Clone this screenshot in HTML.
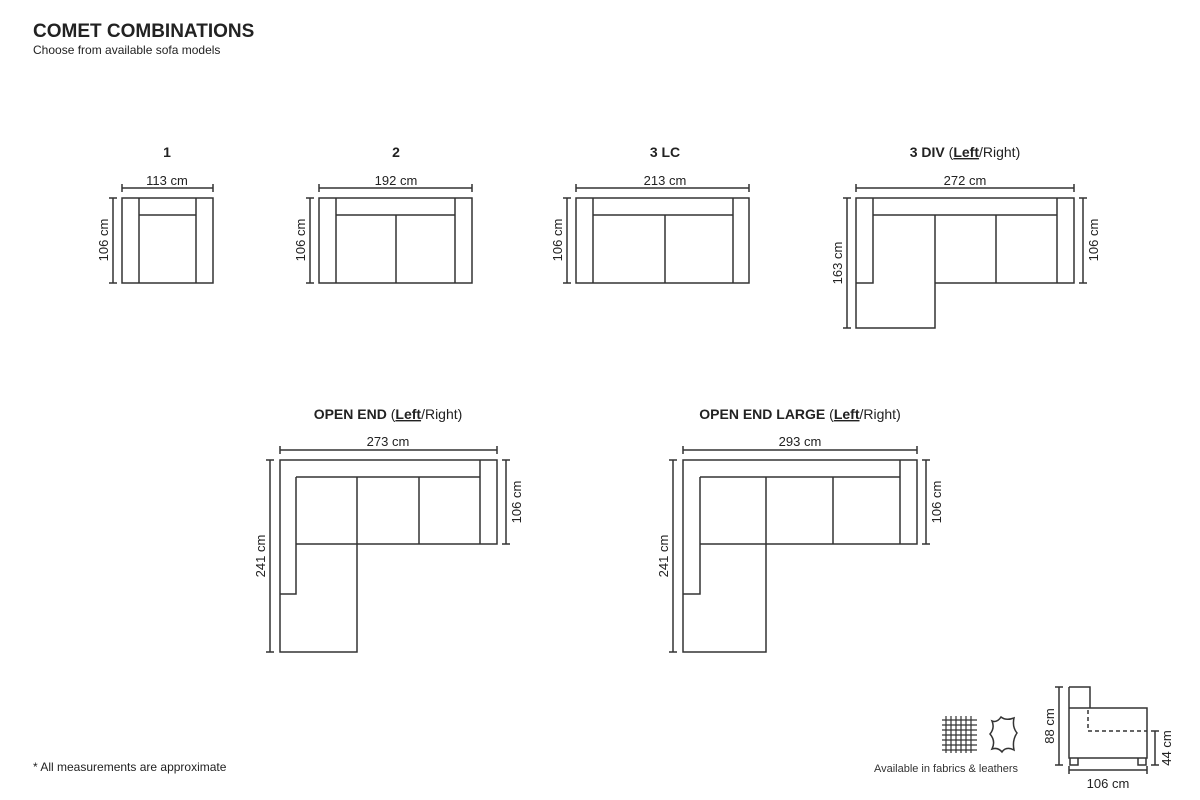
<!DOCTYPE html>
<html><head><meta charset="utf-8"><style>
html,body{margin:0;padding:0;background:#fff;width:1200px;height:800px;overflow:hidden}
svg{display:block;font-family:"Liberation Sans",sans-serif}
</style></head><body>
<svg width="1200" height="800" viewBox="0 0 1200 800" xmlns="http://www.w3.org/2000/svg">
<g fill="#222">
<text x="33" y="37" font-size="19" font-weight="bold">COMET COMBINATIONS</text>
<text x="33" y="54" font-size="12">Choose from available sofa models</text>
<text x="33" y="771" font-size="12">* All measurements are approximate</text>
</g>
<g fill="#222" font-size="14" text-anchor="middle">
<text x="167" y="157" font-weight="bold">1</text>
<text x="396" y="157" font-weight="bold">2</text>
<text x="665" y="157" font-weight="bold">3 LC</text>
<text x="965" y="157"><tspan font-weight="bold">3 DIV </tspan>(<tspan font-weight="bold" text-decoration="underline">Left</tspan>/Right)</text>
<text x="388" y="419"><tspan font-weight="bold">OPEN END </tspan>(<tspan font-weight="bold" text-decoration="underline">Left</tspan>/Right)</text>
<text x="800" y="419"><tspan font-weight="bold">OPEN END LARGE </tspan>(<tspan font-weight="bold" text-decoration="underline">Left</tspan>/Right)</text>
</g>
<g fill="#222" font-size="13" text-anchor="middle">
<text x="167" y="185">113 cm</text>
<text x="396" y="185">192 cm</text>
<text x="665" y="185">213 cm</text>
<text x="965" y="185">272 cm</text>
<text x="388" y="446">273 cm</text>
<text x="800" y="446">293 cm</text>
<text transform="translate(108,240) rotate(-90)">106 cm</text>
<text transform="translate(305,240) rotate(-90)">106 cm</text>
<text transform="translate(562,240) rotate(-90)">106 cm</text>
<text transform="translate(842,263) rotate(-90)">163 cm</text>
<text transform="translate(1098,240) rotate(-90)">106 cm</text>
<text transform="translate(265,556) rotate(-90)">241 cm</text>
<text transform="translate(521,502) rotate(-90)">106 cm</text>
<text transform="translate(668,556) rotate(-90)">241 cm</text>
<text transform="translate(941,502) rotate(-90)">106 cm</text>
<text transform="translate(1054,726) rotate(-90)">88 cm</text>
<text transform="translate(1171,748) rotate(-90)">44 cm</text>
<text x="1108" y="788">106 cm</text>
</g>
<text x="946" y="772" font-size="11" fill="#333" text-anchor="middle">Available in fabrics &amp; leathers</text>
<g stroke="#333" stroke-width="1.5" fill="none">
<!-- dims -->
<path d="M122 188H213M122 184v8M213 184v8 M113 198V283M109 198h8M109 283h8"/>
<path d="M319 188H472M319 184v8M472 184v8 M310 198V283M306 198h8M306 283h8"/>
<path d="M576 188H749M576 184v8M749 184v8 M567 198V283M563 198h8M563 283h8"/>
<path d="M856 188H1074M856 184v8M1074 184v8 M847 198V328M843 198h8M843 328h8 M1083 198V283M1079 198h8M1079 283h8"/>
<path d="M280 450H497M280 446v8M497 446v8 M270 460V652M266 460h8M266 652h8 M506 460V544M502 460h8M502 544h8"/>
<path d="M683 450H917M683 446v8M917 446v8 M673 460V652M669 460h8M669 652h8 M926 460V544M922 460h8M922 544h8"/>
<!-- sofa 1 -->
<rect x="122" y="198" width="91" height="85"/><path d="M139 198V283M196 198V283M139 215H196"/>
<!-- sofa 2 -->
<rect x="319" y="198" width="153" height="85"/><path d="M336 198V283M455 198V283M336 215H455M396 215V283"/>
<!-- 3LC -->
<rect x="576" y="198" width="173" height="85"/><path d="M593 198V283M733 198V283M593 215H733M665 215V283"/>
<!-- 3DIV -->
<path d="M856 198H1074V283H935V328H856Z M873 198V283H856 M1057 198V283 M873 215H1057 M935 215V283 M996 215V283"/>
<!-- open end -->
<path d="M280 460H497V544H357V652H280Z M480 460V544 M296 477H480 M296 477V594H280 M296 544H357 M357 477V544 M419 477V544"/>
<!-- open end large -->
<path d="M683 460H917V544H766V652H683Z M900 460V544 M700 477H900 M700 477V594H683 M700 544H766 M766 477V544 M833 477V544"/>
<!-- side view -->
<path d="M1069 687H1090V708 M1069 687V758H1147V708H1069 M1070 758v7h8v-7 M1138 758v7h8v-7"/>
<path d="M1088 710V731H1147" stroke-dasharray="4 3"/>
<path d="M1059 687V765M1055 687h8M1055 765h8 M1069 770H1147M1069 766v8M1147 766v8 M1155 731V765M1151 731h8M1151 765h8"/>
</g>
<!-- fabric icon -->
<g stroke="#333" stroke-width="1.2">
<path d="M942 720H977M942 725H977M942 730H977M942 735H977M942 740H977M942 745H977M942 750H977"/>
<path d="M946 716V753M951 716V753M956 716V753M961 716V753M966 716V753M971 716V753"/>
</g>
<path d="M992 721 Q997 723 1001 717 Q1006 721 1014 718 Q1012 727 1017 733 Q1012 740 1014 750 Q1006 746 1002 752 Q998 747 992 749 Q996 741 990 734 Q995 728 992 721Z" fill="none" stroke="#333" stroke-width="1.5"/>
</svg>
</body></html>
